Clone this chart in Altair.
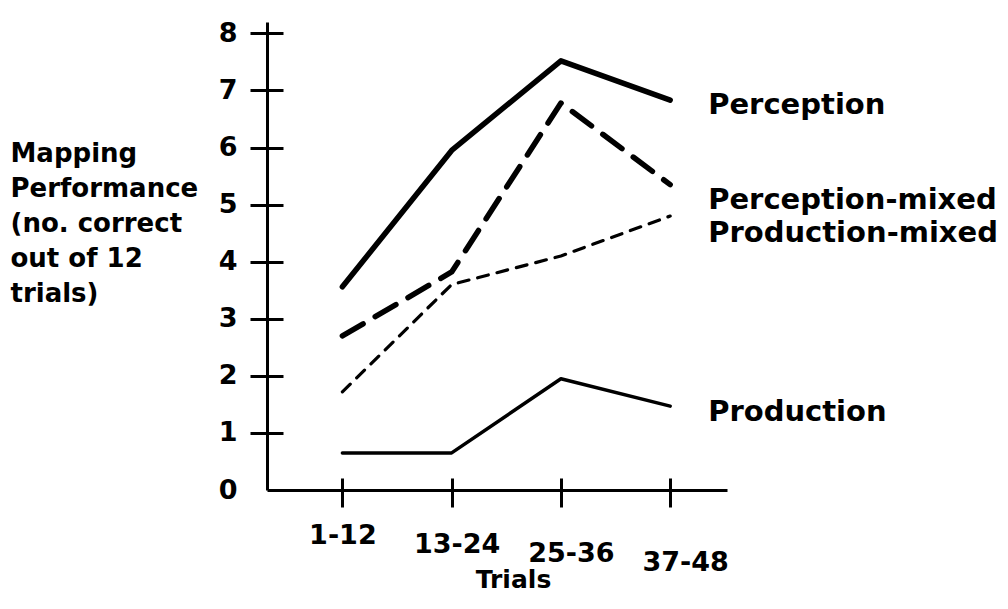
import json
import altair as alt
import pandas as pd

trials = ["1-12", "13-24", "25-36", "37-48"]
series_names = ["Perception", "Perception-mixed", "Production-mixed", "Production"]
perception = [3.56, 5.95, 7.52, 6.83]
perception_mixed = [2.70, 3.82, 6.78, 5.35]
production_mixed = [1.72, 3.60, 4.10, 4.80]
production = [0.65, 0.65, 1.95, 1.47]
y_ticks = [0, 1, 2, 3, 4, 5, 6, 7, 8]
y_title = ["Mapping", "Performance", "(no. correct", "out of 12", "trials)"]
x_title = "Trials"

series_values = [perception, perception_mixed, production_mixed, production]
rows = []
for name, vals in zip(series_names, series_values):
    for i, (t, v) in enumerate(zip(trials, vals)):
        rows.append({"series": name, "idx": i, "trial": t, "value": v})
df = pd.DataFrame(rows)

FONT = "DejaVu Sans"
PLOT_W, PLOT_H = 460, 468

styles = {
    "Perception": dict(strokeWidth=5.5, dash=None, dy=5),
    "Perception-mixed": dict(strokeWidth=5.5, dash=[24, 14], dy=15),
    "Production-mixed": dict(strokeWidth=3.2, dash=[11, 9], dy=17),
    "Production": dict(strokeWidth=3.5, dash=None, dy=6),
}

x_scale = alt.Scale(domain=[-0.69, 3.52], nice=False, zero=False)
y_scale = alt.Scale(domain=[0, 8.2], nice=False, zero=False)

label_expr = json.dumps(trials) + "[datum.value]"

x_axis = alt.Axis(
    values=[0, 1, 2, 3],
    labelExpr=label_expr,
    title=x_title,
    titleFont=FONT, titleFontSize=25, titleFontWeight="bold", titleColor="black",
    titleX=246, titleY=77, titleBaseline="top", titleAnchor="middle",
    labelFont=FONT, labelFontSize=27, labelFontWeight="bold", labelColor="black",
    labelPadding=alt.ExprRef("15 + datum.value * 9"),
    labelOffset=alt.ExprRef("datum.value * 5"),
    labelBaseline="top",
    domainColor="black", domainWidth=3,
    tickColor="black", tickWidth=3, tickSize=17,
    grid=True, gridColor="black", gridWidth=3, gridDash=[0, PLOT_H - 12, 12, 3000],
)

y_axis = alt.Axis(
    values=y_ticks,
    title=y_title,
    titleAngle=0, titleAlign="left", titleBaseline="top",
    titleX=-257, titleY=118, titleLineHeight=35,
    titleFont=FONT, titleFontSize=26, titleFontWeight="bold", titleColor="black",
    labelFont=FONT, labelFontSize=27, labelFontWeight="bold", labelColor="black",
    labelPadding=13,
    domainColor="black", domainWidth=3,
    tickColor="black", tickWidth=3, tickSize=17,
    tickOpacity=alt.ExprRef("datum.value === 0 ? 0 : 1"),
    grid=True, gridColor="black", gridWidth=3, gridDash=[16, 3000],
    gridOpacity=alt.ExprRef("datum.value === 0 ? 0 : 1"),
)

layers = []
for name in series_names:
    st = styles[name]
    mk = dict(color="black", strokeWidth=st["strokeWidth"], strokeCap="round", strokeJoin="round")
    if st["dash"] is not None:
        mk["strokeDash"] = st["dash"]
    sub = df[df["series"] == name]
    line = alt.Chart(sub).mark_line(**mk).encode(
        x=alt.X("idx:Q", scale=x_scale, axis=x_axis),
        y=alt.Y("value:Q", scale=y_scale, axis=y_axis),
    )
    layers.append(line)
    lab = alt.Chart(sub[sub["idx"] == len(trials) - 1]).mark_text(
        align="left", baseline="middle", dx=38, dy=st["dy"],
        font=FONT, fontSize=29, fontWeight="bold", color="black",
    ).encode(
        x=alt.X("idx:Q", scale=x_scale, axis=x_axis),
        y=alt.Y("value:Q", scale=y_scale, axis=y_axis),
        text="series:N",
    )
    layers.append(lab)

chart = alt.layer(*layers).properties(
    width=PLOT_W, height=PLOT_H,
    autosize=alt.AutoSizeParams(type="none"),
    padding={"left": 259, "top": 14, "right": 272, "bottom": 104},
    background="white",
).configure_view(stroke=None)

chart.save("out.html", embed_options={"renderer": "svg", "actions": False})
